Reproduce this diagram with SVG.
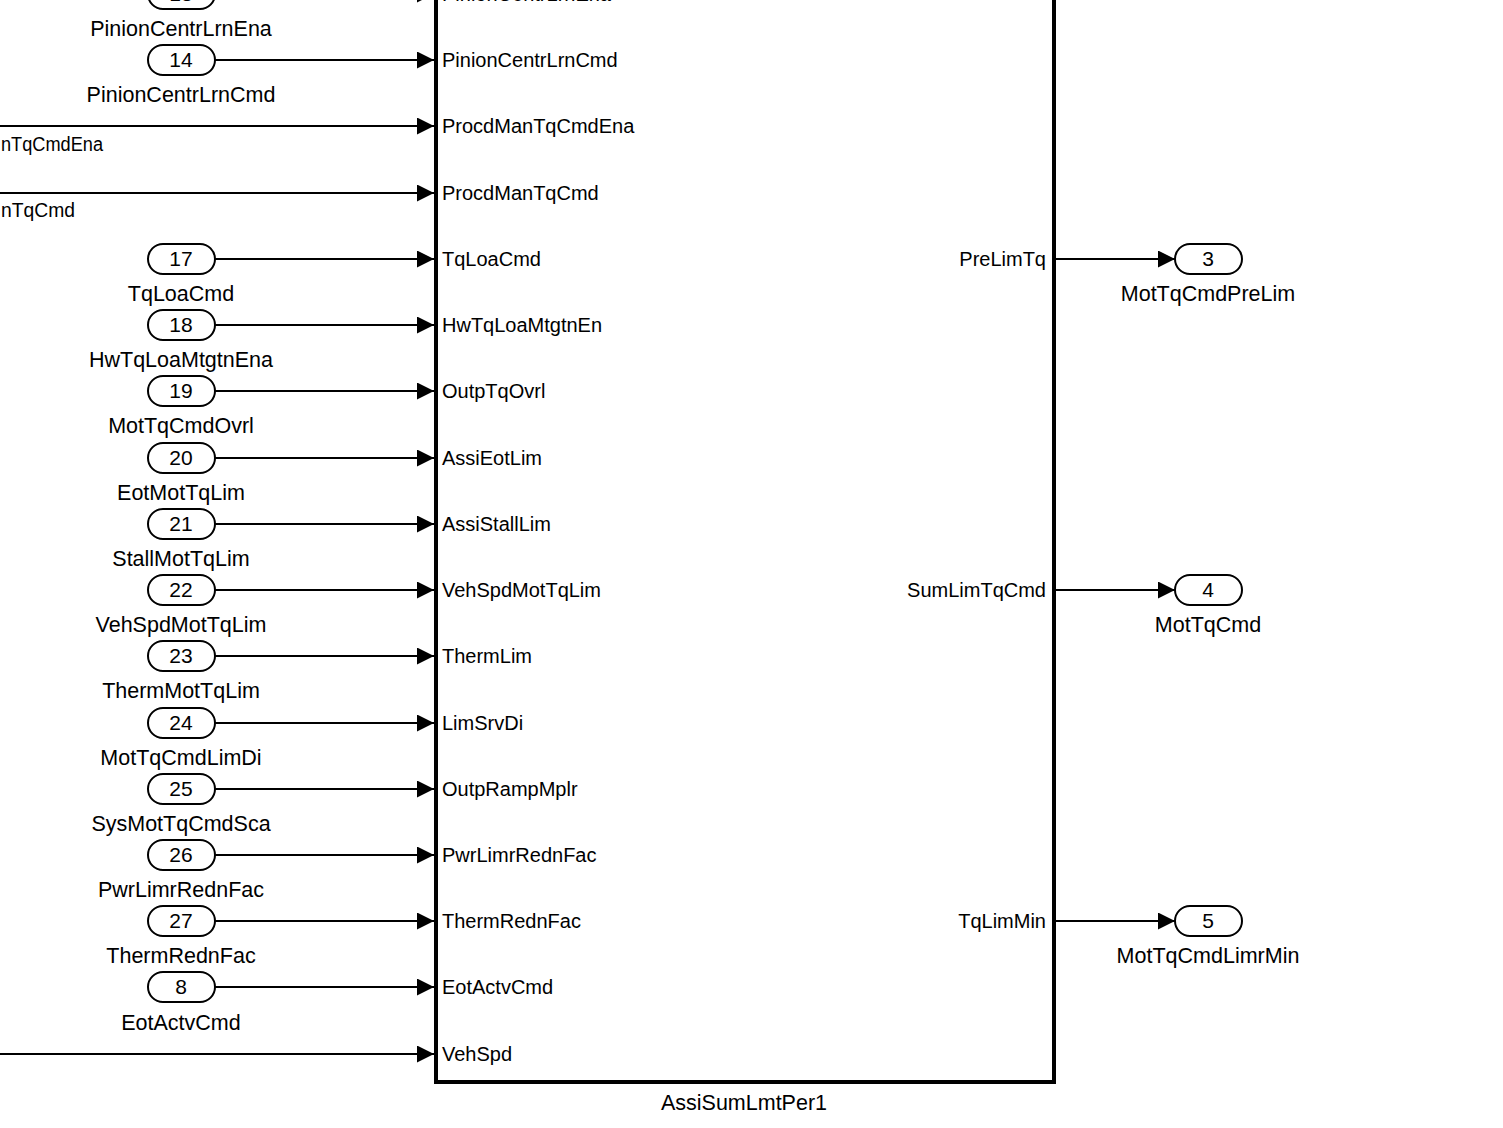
<svg xmlns="http://www.w3.org/2000/svg" width="1503" height="1128" viewBox="0 0 1503 1128">
<style>
.pill{fill:#fff;stroke:#000;stroke-width:2}
.num{font-family:"Liberation Sans",Arial,sans-serif;font-size:21px;text-anchor:middle;fill:#000}
.lbl{font-family:"Liberation Sans",Arial,sans-serif;font-size:21.5px;text-anchor:middle;fill:#000}
.cut{font-family:"Liberation Sans",Arial,sans-serif;font-size:20px;fill:#000}
.pin{font-family:"Liberation Sans",Arial,sans-serif;font-size:20px;fill:#000}
.pout{font-family:"Liberation Sans",Arial,sans-serif;font-size:20px;fill:#000;text-anchor:end}
.wire{stroke:#000;stroke-width:2;fill:none}
.blk{fill:#fff;stroke:#000;stroke-width:4}
</style>
<defs>
<marker id="ah" viewBox="0 0 10 10" refX="10" refY="5" markerWidth="17" markerHeight="17" markerUnits="userSpaceOnUse" orient="auto">
<path d="M0,0 L10,5 L0,10 Z" fill="#000"/>
</marker>
</defs>
<rect width="1503" height="1128" fill="#fff"/>
<g id="block">
<rect class="blk" x="436" y="-20" width="618" height="1102"/>
<text class="lbl" x="744" y="1110">AssiSumLmtPer1</text>
<text class="pin" x="442" y="1">PinionCentrLrnEna</text>
<text class="pin" x="442" y="67">PinionCentrLrnCmd</text>
<text class="pin" x="442" y="133">ProcdManTqCmdEna</text>
<text class="pin" x="442" y="200">ProcdManTqCmd</text>
<text class="pin" x="442" y="266">TqLoaCmd</text>
<text class="pin" x="442" y="332">HwTqLoaMtgtnEn</text>
<text class="pin" x="442" y="398">OutpTqOvrl</text>
<text class="pin" x="442" y="465">AssiEotLim</text>
<text class="pin" x="442" y="531">AssiStallLim</text>
<text class="pin" x="442" y="597">VehSpdMotTqLim</text>
<text class="pin" x="442" y="663">ThermLim</text>
<text class="pin" x="442" y="730">LimSrvDi</text>
<text class="pin" x="442" y="796">OutpRampMplr</text>
<text class="pin" x="442" y="862">PwrLimrRednFac</text>
<text class="pin" x="442" y="928">ThermRednFac</text>
<text class="pin" x="442" y="994">EotActvCmd</text>
<text class="pin" x="442" y="1061">VehSpd</text>
<text class="pout" x="1046" y="266">PreLimTq</text>
<text class="pout" x="1046" y="597">SumLimTqCmd</text>
<text class="pout" x="1046" y="928">TqLimMin</text>
</g>
<g id="in13"><rect class="pill" x="148" y="-21" width="67" height="30" rx="15"/><text class="num" x="181" y="1">13</text><text class="lbl" x="181" y="36">PinionCentrLrnEna</text></g>
<g id="in14"><rect class="pill" x="148" y="45" width="67" height="30" rx="15"/><text class="num" x="181" y="67">14</text><text class="lbl" x="181" y="102">PinionCentrLrnCmd</text></g>
<g id="inProcdEna"><text class="cut" x="1" y="151" textLength="102" lengthAdjust="spacingAndGlyphs">nTqCmdEna</text></g>
<g id="inProcd"><text class="cut" x="1" y="217" textLength="74" lengthAdjust="spacingAndGlyphs">nTqCmd</text></g>
<g id="in17"><rect class="pill" x="148" y="244" width="67" height="30" rx="15"/><text class="num" x="181" y="266">17</text><text class="lbl" x="181" y="301">TqLoaCmd</text></g>
<g id="in18"><rect class="pill" x="148" y="310" width="67" height="30" rx="15"/><text class="num" x="181" y="332">18</text><text class="lbl" x="181" y="367">HwTqLoaMtgtnEna</text></g>
<g id="in19"><rect class="pill" x="148" y="376" width="67" height="30" rx="15"/><text class="num" x="181" y="398">19</text><text class="lbl" x="181" y="433">MotTqCmdOvrl</text></g>
<g id="in20"><rect class="pill" x="148" y="443" width="67" height="30" rx="15"/><text class="num" x="181" y="465">20</text><text class="lbl" x="181" y="500">EotMotTqLim</text></g>
<g id="in21"><rect class="pill" x="148" y="509" width="67" height="30" rx="15"/><text class="num" x="181" y="531">21</text><text class="lbl" x="181" y="566">StallMotTqLim</text></g>
<g id="in22"><rect class="pill" x="148" y="575" width="67" height="30" rx="15"/><text class="num" x="181" y="597">22</text><text class="lbl" x="181" y="632">VehSpdMotTqLim</text></g>
<g id="in23"><rect class="pill" x="148" y="641" width="67" height="30" rx="15"/><text class="num" x="181" y="663">23</text><text class="lbl" x="181" y="698">ThermMotTqLim</text></g>
<g id="in24"><rect class="pill" x="148" y="708" width="67" height="30" rx="15"/><text class="num" x="181" y="730">24</text><text class="lbl" x="181" y="765">MotTqCmdLimDi</text></g>
<g id="in25"><rect class="pill" x="148" y="774" width="67" height="30" rx="15"/><text class="num" x="181" y="796">25</text><text class="lbl" x="181" y="831">SysMotTqCmdSca</text></g>
<g id="in26"><rect class="pill" x="148" y="840" width="67" height="30" rx="15"/><text class="num" x="181" y="862">26</text><text class="lbl" x="181" y="897">PwrLimrRednFac</text></g>
<g id="in27"><rect class="pill" x="148" y="906" width="67" height="30" rx="15"/><text class="num" x="181" y="928">27</text><text class="lbl" x="181" y="963">ThermRednFac</text></g>
<g id="in8"><rect class="pill" x="148" y="972" width="67" height="30" rx="15"/><text class="num" x="181" y="994">8</text><text class="lbl" x="181" y="1030">EotActvCmd</text></g>
<g id="out3"><rect class="pill" x="1175" y="244" width="67" height="30" rx="15"/><text class="num" x="1208" y="266">3</text><text class="lbl" x="1208" y="301">MotTqCmdPreLim</text></g>
<g id="out4"><rect class="pill" x="1175" y="575" width="67" height="30" rx="15"/><text class="num" x="1208" y="597">4</text><text class="lbl" x="1208" y="632">MotTqCmd</text></g>
<g id="out5"><rect class="pill" x="1175" y="906" width="67" height="30" rx="15"/><text class="num" x="1208" y="928">5</text><text class="lbl" x="1208" y="963">MotTqCmdLimrMin</text></g>
<g id="connectors">
<path class="wire" marker-end="url(#ah)" d="M215,-6 H434"/>
<path class="wire" marker-end="url(#ah)" d="M215,60 H434"/>
<path class="wire" marker-end="url(#ah)" d="M0,126 H434"/>
<path class="wire" marker-end="url(#ah)" d="M0,193 H434"/>
<path class="wire" marker-end="url(#ah)" d="M215,259 H434"/>
<path class="wire" marker-end="url(#ah)" d="M215,325 H434"/>
<path class="wire" marker-end="url(#ah)" d="M215,391 H434"/>
<path class="wire" marker-end="url(#ah)" d="M215,458 H434"/>
<path class="wire" marker-end="url(#ah)" d="M215,524 H434"/>
<path class="wire" marker-end="url(#ah)" d="M215,590 H434"/>
<path class="wire" marker-end="url(#ah)" d="M215,656 H434"/>
<path class="wire" marker-end="url(#ah)" d="M215,723 H434"/>
<path class="wire" marker-end="url(#ah)" d="M215,789 H434"/>
<path class="wire" marker-end="url(#ah)" d="M215,855 H434"/>
<path class="wire" marker-end="url(#ah)" d="M215,921 H434"/>
<path class="wire" marker-end="url(#ah)" d="M215,987 H434"/>
<path class="wire" marker-end="url(#ah)" d="M0,1054 H434"/>
<path class="wire" marker-end="url(#ah)" d="M1056,259 H1175"/>
<path class="wire" marker-end="url(#ah)" d="M1056,590 H1175"/>
<path class="wire" marker-end="url(#ah)" d="M1056,921 H1175"/>
</g>
</svg>
